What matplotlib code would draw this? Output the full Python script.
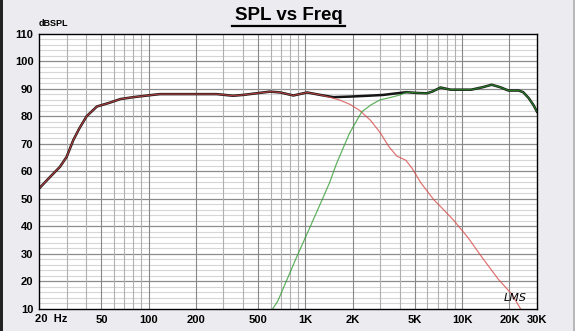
import numpy as np
import matplotlib
matplotlib.use("Agg")
import matplotlib.pyplot as plt
from matplotlib.patches import Rectangle

plt.rcParams['font.family'] = ['Liberation Sans', 'DejaVu Sans']

# summed system response (dB SPL)
freq_total = [20, 23.5, 27.2, 30, 33.1, 36.2, 40.3, 46.8, 56.6, 66, 80, 102, 118,
              150, 200, 272, 345, 400, 488, 594, 691, 838, 1026, 1246, 1509, 1920,
              2500, 3130, 3700, 4420, 5200, 5960, 6500, 7270, 8440, 10000, 11400,
              13500, 15400, 17500, 19700, 22900, 24500, 26600, 28500, 30000]
spl_total = [53.7, 57.9, 61.6, 65.2, 71.3, 75.6, 80.0, 83.5, 84.9, 86.2, 86.9, 87.6, 88.0,
             88.0, 88.0, 88.0, 87.4, 87.7, 88.3, 88.9, 88.6, 87.5, 88.6, 87.7, 86.9, 87.1,
             87.4, 87.7, 88.2, 88.7, 88.4, 88.3, 89.0, 90.4, 89.6, 89.6, 89.6,
             90.5, 91.4, 90.5, 89.3, 89.3, 88.7, 86.5, 84.0, 81.6]

# woofer section above the point where it leaves the sum
woofer_freq_hi = [1430, 1660, 1920, 2230, 2600, 3000, 3400, 3830, 4370, 4800, 5450,
                  6600, 7270, 8860, 10860, 13400, 17000, 20700, 24000]
woofer_spl_hi = [86.9, 85.8, 84.3, 82.0, 78.5, 74.0, 69.0, 65.5, 64.0, 61.0, 55.8,
                 49.6, 47.2, 42.1, 36.0, 28.7, 20.8, 15.4, 9.3]

# tweeter section below the point where it joins the sum
tweeter_freq_lo = [618, 667, 877, 1070, 1300, 1430, 1580, 1830, 1920, 2290, 2620,
                   2990, 3500, 4020]
tweeter_spl_lo = [10.0, 12.9, 28.7, 39.7, 50.6, 56.0, 62.8, 71.3, 74.0, 81.6, 84.1,
                  85.9, 86.8, 87.7]

ft = np.array(freq_total)
st = np.array(spl_total)
wf = np.concatenate([ft[ft <= 1246], woofer_freq_hi])
ws = np.concatenate([st[ft <= 1246], woofer_spl_hi])
tf = np.concatenate([tweeter_freq_lo, ft[ft >= 4420]])
ts = np.concatenate([tweeter_spl_lo, st[ft >= 4420]])

bg = '#ecebef'
fig = plt.figure(figsize=(5.75, 3.31), dpi=100, facecolor=bg)
ax = fig.add_axes([39/575, 1-309/331, 498/575, 275.5/331])
ax.set_facecolor('white')
ax.set_xscale('log')
ax.set_xlim(20, 30000)
ax.set_ylim(10, 110)

# grid: light lines every 2 dB, darker every 10 dB, vertical at every decade multiple
for y in range(12, 110, 2):
    if y % 10:
        ax.axhline(y, color='#d6d6d6', lw=0.8, zorder=1)
for y in range(20, 110, 10):
    ax.axhline(y, color='#8c8c8c', lw=0.9, zorder=2)
for dec in [10, 100, 1000, 10000]:
    for m in range(1, 10):
        f = m * dec
        if 20 < f < 30000:
            c = '#888888' if m in (1, 2, 5) else '#b0b0b0'
            ax.axvline(f, color=c, lw=0.8, zorder=2)

ax.plot(ft, st, color='#151515', lw=1.8, zorder=4)
ax.plot(wf, ws, color='#d84848', lw=0.9, alpha=0.75, zorder=5)
ax.plot(tf, ts, color='#2e9a2e', lw=0.9, alpha=0.75, zorder=5)

for s in ax.spines.values():
    s.set_color('black')
    s.set_linewidth(1.0)
    s.set_zorder(6)

ax.set_yticks(range(10, 111, 10))
ax.tick_params(axis='y', length=0, pad=4, labelsize=8)
xt = [20, 50, 100, 200, 500, 1000, 2000, 5000, 10000, 20000, 30000]
xl = ['', '50', '100', '200', '500', '1K', '2K', '5K', '10K', '20K', '30K']
ax.set_xticks(xt)
ax.set_xticklabels(xl)
ax.xaxis.set_minor_locator(matplotlib.ticker.NullLocator())
ax.tick_params(axis='x', length=0, pad=4, labelsize=8)
for lab in ax.get_xticklabels() + ax.get_yticklabels():
    lab.set_fontweight('bold')

fig.text(35/575, 1-314.5/331, '20  Hz', fontsize=8, fontweight='bold', va='top', ha='left')
fig.text(39/575, 1-24/331, 'dBSPL', fontsize=6.5, fontweight='bold', va='center', ha='left')
fig.text(288.5/575, 1-16/331, 'SPL vs Freq', fontsize=13.5, fontweight='bold',
         va='center', ha='center')
fig.add_artist(plt.Line2D([232/575, 345/575], [1-25.5/331, 1-25.5/331],
                          color='black', lw=1.6, transform=fig.transFigure))
ax.text(0.957, 0.04, 'LMS', transform=ax.transAxes, fontsize=8, style='italic',
        ha='center', va='center', zorder=7, family=['DejaVu Sans'])

# window frame edges
fig.add_artist(Rectangle((0, 0), 2.5/575, 1, transform=fig.transFigure,
                         color='#222222', lw=0))
fig.add_artist(Rectangle((573/575, 0), 2/575, 1, transform=fig.transFigure,
                         color='#b8b8b8', lw=0))

fig.savefig('out.png', dpi=100, facecolor=bg)
